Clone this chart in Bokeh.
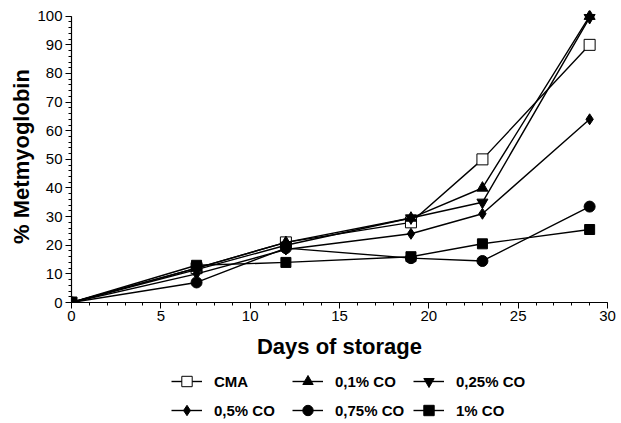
from bokeh.plotting import figure
from bokeh.models import Legend, LegendItem, Range1d, SingleIntervalTicker
from bokeh.layouts import column
from bokeh.embed import file_html
from bokeh.resources import INLINE

days = [0, 7, 12, 19, 23, 29]
cma = [0, 12, 21, 28, 50, 90]
co_01 = [0, 12, 21, 29.5, 40, 100]
co_025 = [0, 11.5, 20, 29.5, 35, 99.5]
co_05 = [0, 10, 18.5, 24, 31, 64]
co_075 = [0, 7, 19, 15.5, 14.5, 33.5]
co_1 = [0, 13, 14, 16, 20.5, 25.5]

labels = ["CMA", "0,1% CO", "0,25% CO", "0,5% CO", "0,75% CO", "1% CO"]
series = [cma, co_01, co_025, co_05, co_075, co_1]
markers = ["square", "triangle", "inverted_triangle", "diamond", "circle", "square"]
fills = ["white", "black", "black", "black", "black", "black"]
sizes = [11, 11, 11, 11, 11, 10]

FONT = "Liberation Sans"

p = figure(width=621, height=366, output_backend="svg", toolbar_location=None,
           x_range=Range1d(0, 30), y_range=Range1d(0, 102),
           min_border_left=71, min_border_top=10, min_border_right=14, min_border_bottom=64)
p.outline_line_color = None
p.xgrid.visible = False
p.ygrid.visible = False

for ys, m, fc, s in zip(series, markers, fills, sizes):
    p.line(days, ys, line_color="black", line_width=1.4)
    p.scatter(days, ys, marker=m, size=s, fill_color=fc, line_color="black", line_width=1)

for ax in (p.xaxis[0], p.yaxis[0]):
    ax.axis_line_color = "black"
    ax.axis_line_width = 1.2
    ax.major_tick_line_color = "black"
    ax.minor_tick_line_color = "black"
    ax.major_tick_out = 6
    ax.major_tick_in = 0
    ax.minor_tick_out = 3
    ax.minor_tick_in = 0
    ax.major_label_text_font = FONT
    ax.major_label_text_font_size = "15px"
    ax.major_label_text_color = "black"
    ax.axis_label_text_font = FONT
    ax.axis_label_text_font_size = "22px"
    ax.axis_label_text_font_style = "bold"
    ax.axis_label_text_color = "black"

p.xaxis[0].ticker = SingleIntervalTicker(interval=5, num_minor_ticks=5)
p.yaxis[0].ticker = SingleIntervalTicker(interval=10, num_minor_ticks=5)
p.yaxis[0].bounds = (0, 100)
p.xaxis.axis_label = "Days of storage"
p.yaxis.axis_label = "% Metmyoglobin"
p.xaxis.major_label_standoff = 2
p.xaxis.axis_label_standoff = 10
p.yaxis.major_label_standoff = 3
p.yaxis.axis_label_standoff = 0

# legend strip below the chart
q = figure(width=621, height=57, output_backend="svg", toolbar_location=None,
           x_range=Range1d(0, 1), y_range=Range1d(0, 1),
           x_axis_location=None, y_axis_location=None,
           min_border=0)
q.outline_line_color = None
q.xgrid.visible = False
q.ygrid.visible = False

items = []
for lab, m, fc, s in zip(labels, markers, fills, sizes):
    ln = q.line(x=[-10, -9], y=[-10, -10], line_color="black", line_width=1.4)
    sc = q.scatter(x=[-10], y=[-10], marker=m, size=s, fill_color=fc, line_color="black", line_width=1)
    items.append(LegendItem(label=lab, renderers=[ln, sc]))

for row, loc in ((items[:3], (100, 29)), (items[3:], (100, 0))):
    legend = Legend(items=row, orientation="horizontal",
                    location=loc, glyph_width=31, glyph_height=26,
                    label_height=26, label_width=73, label_standoff=12, spacing=5,
                    padding=0, margin=0,
                    label_text_font=FONT, label_text_font_size="15px",
                    label_text_font_style="bold", label_text_color="black",
                    border_line_color=None, background_fill_alpha=0)
    q.add_layout(legend)

layout = column(p, q)
open("out.html", "w").write(file_html(layout, INLINE))
